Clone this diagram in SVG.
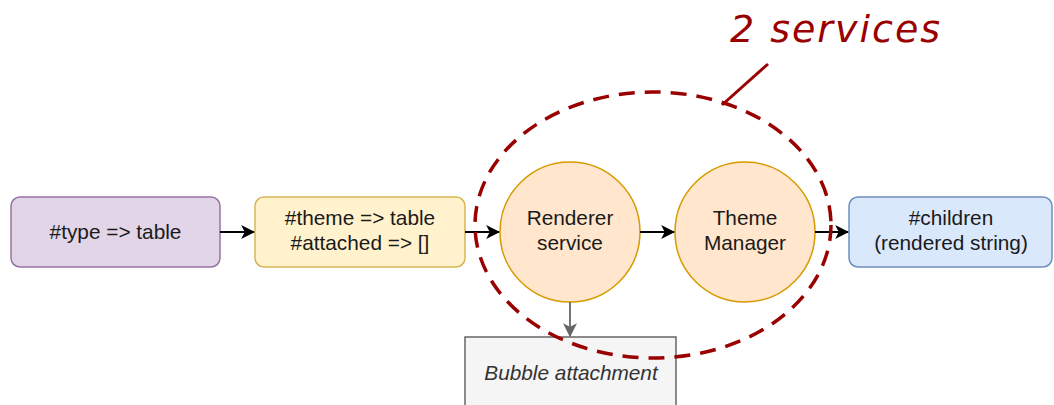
<svg xmlns="http://www.w3.org/2000/svg" width="1054" height="405" viewBox="0 0 1054 405">
<defs>
<style>
.t{font-family:"Liberation Sans",Arial,sans-serif;font-size:20.8px;fill:#1a1a1a;text-anchor:middle}
.c{stroke:#000;stroke-width:1.8;fill:none}
</style>
<marker id="ah" viewBox="0 0 12 12" refX="11" refY="6" markerWidth="14" markerHeight="14" markerUnits="userSpaceOnUse" orient="auto">
<path d="M0,0 L12,6 L0,12 L3,6 Z" fill="#000"/>
</marker>
<marker id="ahg" viewBox="0 0 12 12" refX="11" refY="6" markerWidth="14" markerHeight="14" markerUnits="userSpaceOnUse" orient="auto">
<path d="M0,0 L12,6 L0,12 L3,6 Z" fill="#666"/>
</marker>
</defs>
<rect width="1054" height="405" fill="#fff"/>
<g id="type"><rect x="11" y="197" width="209" height="70" rx="9" fill="#e1d5e7" stroke="#9673a6" stroke-width="1.5"/><text class="t" x="115.5" y="239">#type =&gt; table</text></g>
<g id="theme"><rect x="255" y="197" width="210" height="70" rx="9" fill="#fff2cc" stroke="#d6b656" stroke-width="1.5"/><text class="t" x="360" y="225">#theme =&gt; table</text><text class="t" x="360" y="250">#attached =&gt; []</text></g>
<g id="renderer"><circle cx="570" cy="232" r="70" fill="#ffe6cc" stroke="#d79b00" stroke-width="1.5"/><text class="t" x="570" y="225">Renderer</text><text class="t" x="570" y="250">service</text></g>
<g id="manager"><circle cx="745" cy="232" r="70" fill="#ffe6cc" stroke="#d79b00" stroke-width="1.5"/><text class="t" x="745" y="225">Theme</text><text class="t" x="745" y="250">Manager</text></g>
<g id="children"><rect x="849" y="197" width="203" height="70" rx="9" fill="#dae8fc" stroke="#6c8ebf" stroke-width="1.5"/><text class="t" x="951" y="225">#children</text><text class="t" x="951" y="250">(rendered string)</text></g>
<g id="bubble"><rect x="465" y="337" width="211" height="80" fill="#f5f5f5" stroke="#666" stroke-width="1.5"/><text class="t" x="571" y="380" style="font-style:italic;fill:#333">Bubble attachment</text></g>
<g id="connectors">
<line class="c" x1="220" y1="232" x2="254" y2="232" marker-end="url(#ah)"/>
<line class="c" x1="465" y1="232" x2="499" y2="232" marker-end="url(#ah)"/>
<line class="c" x1="640" y1="232" x2="674" y2="232" marker-end="url(#ah)"/>
<line class="c" x1="815" y1="232" x2="848" y2="232" marker-end="url(#ah)"/>
<line x1="570" y1="302" x2="570" y2="336" stroke="#666" stroke-width="1.8" marker-end="url(#ahg)"/>
</g>
<g id="annotation">
<ellipse cx="653" cy="225" rx="178" ry="133" fill="none" stroke="#990000" stroke-width="3.5" stroke-dasharray="16,10"/>
<line x1="768" y1="64" x2="722" y2="105" stroke="#990000" stroke-width="3"/>
<text x="836" y="42" style="font-family:'DejaVu Sans',sans-serif;font-style:italic;font-size:38px;fill:#990000;text-anchor:middle;letter-spacing:2px">2 services</text>
</g>
</svg>
